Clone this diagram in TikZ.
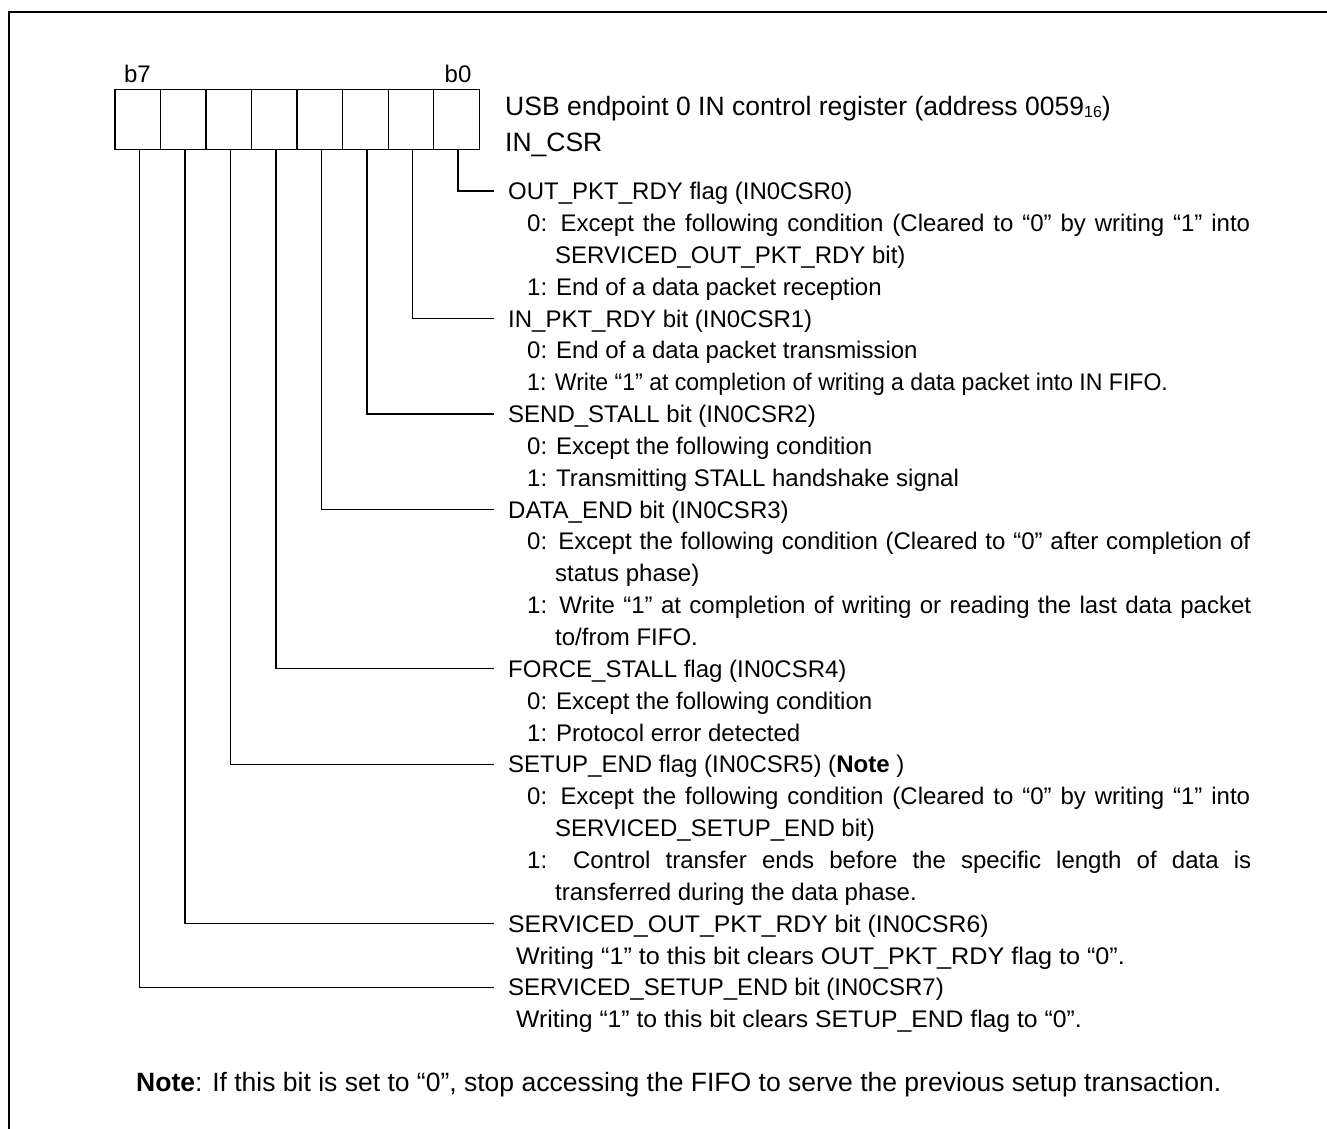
\documentclass[tikz,border=0pt]{standalone}
\usepackage{fontspec}
\usepackage{graphicx}
\setmainfont{Liberation Sans}
\begin{document}
\begin{tikzpicture}[x=1pt,y=-1pt,
  frame/.style={line width=2pt},
  bitbox/.style={draw,line width=1.4pt,minimum width=45.54pt,minimum height=60pt,inner sep=0pt,outer sep=0pt},
  lead/.style={line width=1.4pt},
  txt/.style={anchor=base west,inner sep=0pt,font=\fontsize{24}{28}\selectfont},
  big/.style={anchor=base west,inner sep=0pt,font=\fontsize{26.5}{30}\selectfont},
  bitlbl/.style={anchor=base,inner sep=0pt,font=\fontsize{24}{28}\selectfont}]
\useasboundingbox (0,0) rectangle (1327,1129);
% frame
\coordinate (fTR) at (1327,12);
\coordinate (fTL) at (9,12);
\coordinate (fBL) at (9,1129);
\draw[frame] (fTR) -- (fTL) -- (fBL);
% register boxes
\foreach \i in {0,...,7}{
  \node[bitbox] (bit\i) at ({115+45.54*(7-\i)+22.77},119.3) {};
}
\node[bitlbl] (lb7) at (137.5,83) {b7};
\node[bitlbl] (lb0) at (458,83) {b0};
\node[big] (title) at (505,115.3) {USB endpoint 0 IN control register (address 0059{\fontsize{16}{16}\selectfont\raisebox{-2pt}{16}})};
\node[big] (reg) at (505,151.3) {IN\_CSR};
% text lines
\def\p{31.85}
\newcommand{\Ly}[1]{{191+(#1-1)*\p+8.6}}
\def\hx{508}
\def\ix{527}
\def\wx{555}
\node[txt] (t1) at (\hx,\Ly{1}) {OUT\_PKT\_RDY flag (IN0CSR0)};
\node[txt] (t2) at (\ix,\Ly{2}) {\makebox[723pt][s]{0: Except the following condition (Cleared to “0” by writing “1” into}};
\node[txt] (t3) at (\wx,\Ly{3}) {SERVICED\_OUT\_PKT\_RDY bit)};
\node[txt] (t4) at (\ix,\Ly{4}) {1: End of a data packet reception};
\node[txt] (t5) at (\hx,\Ly{5}) {IN\_PKT\_RDY bit (IN0CSR1)};
\node[txt] (t6) at (\ix,\Ly{6}) {0: End of a data packet transmission};
\node[txt] (t7) at (\ix,\Ly{7}) {\scalebox{0.96}[1]{1: Write “1” at completion of writing a data packet into IN FIFO.}};
\node[txt] (t8) at (\hx,\Ly{8}) {SEND\_STALL bit (IN0CSR2)};
\node[txt] (t9) at (\ix,\Ly{9}) {0: Except the following condition};
\node[txt] (t10) at (\ix,\Ly{10}) {1: Transmitting STALL handshake signal};
\node[txt] (t11) at (\hx,\Ly{11}) {DATA\_END bit (IN0CSR3)};
\node[txt] (t12) at (\ix,\Ly{12}) {\makebox[723pt][s]{0: Except the following condition (Cleared to “0” after completion of}};
\node[txt] (t13) at (\wx,\Ly{13}) {status phase)};
\node[txt] (t14) at (\ix,\Ly{14}) {\makebox[724pt][s]{1: Write “1” at completion of writing or reading the last data packet}};
\node[txt] (t15) at (\wx,\Ly{15}) {to/from FIFO.};
\node[txt] (t16) at (\hx,\Ly{16}) {FORCE\_STALL flag (IN0CSR4)};
\node[txt] (t17) at (\ix,\Ly{17}) {0: Except the following condition};
\node[txt] (t18) at (\ix,\Ly{18}) {1: Protocol error detected};
\node[txt] (t19) at (\hx,\Ly{19}) {SETUP\_END flag (IN0CSR5) (\textbf{Note} )};
\node[txt] (t20) at (\ix,\Ly{20}) {\makebox[723pt][s]{0: Except the following condition (Cleared to “0” by writing “1” into}};
\node[txt] (t21) at (\wx,\Ly{21}) {SERVICED\_SETUP\_END bit)};
\node[txt] (t22) at (\ix,\Ly{22}) {\makebox[724pt][s]{1: Control transfer ends before the specific length of data is}};
\node[txt] (t23) at (\wx,\Ly{23}) {transferred during the data phase.};
\node[txt] (t24) at (\hx,\Ly{24}) {\scalebox{1.03}[1]{SERVICED\_OUT\_PKT\_RDY bit (IN0CSR6)}};
\node[txt] (t25) at (516,\Ly{25}) {\scalebox{1.05}[1]{Writing “1” to this bit clears OUT\_PKT\_RDY flag to “0”.}};
\node[txt] (t26) at (\hx,\Ly{26}) {SERVICED\_SETUP\_END bit (IN0CSR7)};
\node[txt] (t27) at (516,\Ly{27}) {\scalebox{1.03}[1]{Writing “1” to this bit clears SETUP\_END flag to “0”.}};
\node[big] (note) at (136,1091) {\textbf{Note}: If this bit is set to “0”, stop accessing the FIFO to serve the previous setup transaction.};
% connector ends
\coordinate (e0) at (494,{191+0*\p});
\coordinate (e1) at (494,{191+4*\p});
\coordinate (e2) at (494,{191+7*\p});
\coordinate (e3) at (494,{191+10*\p});
\coordinate (e4) at (494,{191+15*\p});
\coordinate (e5) at (494,{191+18*\p});
\coordinate (e6) at (494,{191+23*\p});
\coordinate (e7) at (494,{191+25*\p});
\foreach \i in {0,...,7}{
  \draw[lead] ([xshift=1.5pt]bit\i.south) |- (e\i);
}
\end{tikzpicture}
\end{document}
